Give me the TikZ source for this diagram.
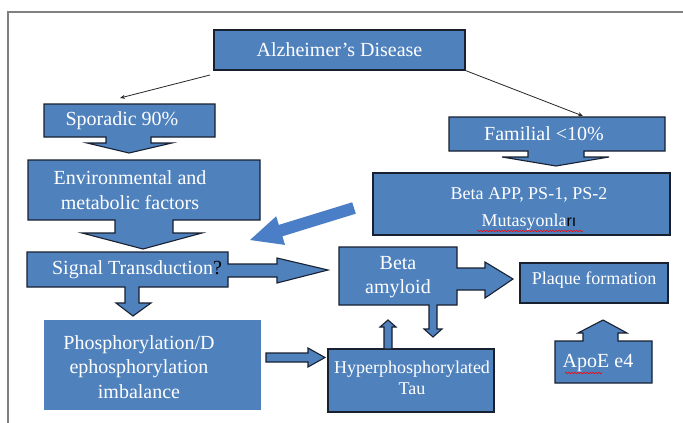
\documentclass[tikz,border=0pt]{standalone}
\usepackage{fontspec}
\setmainfont{Liberation Serif}
\newfontfamily\lsans{Liberation Sans}
\usetikzlibrary{arrows.meta,decorations.pathmorphing}
\definecolor{boxblue}{RGB}{79,129,189}
\definecolor{bigblue}{RGB}{74,126,198}
\definecolor{edgecol}{RGB}{25,32,48}
\definecolor{framegray}{RGB}{128,128,128}
\begin{document}
\begin{tikzpicture}[x=1pt,y=-1pt,
  shp/.style={fill=boxblue,draw=edgecol,line width=1.1pt,line join=miter},
  boxnode/.style={shp,rectangle,inner sep=0pt,text=white,align=center},
  lbl/.style={text=white,align=center,inner sep=0pt},
  fa/.style={font=\fontsize{20}{25}\selectfont},
  fb/.style={font=\fontsize{18}{22}\selectfont},
  conn/.style={draw=black!85,line width=0.8pt,-{Stealth[length=5pt,width=4pt]}},
  squig/.style={draw=red,line width=0.6pt,decorate,decoration={snake,amplitude=0.7pt,segment length=3pt}}]
\useasboundingbox (0,0) rectangle (683,423);
\fill[white] (0,0) rectangle (683,423);
% frame
\draw[framegray,line width=1.5pt] (8,423) -- (8,12) -- (683,12);

% Alzheimer's Disease
\node[boxnode,fa,minimum width=251pt,minimum height=40pt] (alz) at (339.5,50) {Alzheimer’s Disease};

% Sporadic 90% (down arrow callout)
\draw[shp] (44,104) -- (215,104) -- (215,137) -- (151,137) -- (151,143) -- (172,143) -- (129,153) -- (87,143) -- (106,143) -- (106,137) -- (44,137) -- cycle;
\node[lbl,fa] (spor) at (122,121) {Sporadic 90\%};

% Familial <10%
\draw[shp] (449,117) -- (665,117) -- (665,151) -- (584,151) -- (584,157) -- (609,157) -- (556,166) -- (502,157) -- (528,157) -- (528,151) -- (449,151) -- cycle;
\node[lbl,fa] (fam) at (544,134) {Familial <10\%};

% connectors
\coordinate (sporN) at (120,98);
\coordinate (alzL) at (210,75);
\coordinate (famN) at (583,116);
\draw[conn] (alzL) -- (sporN);
\draw[conn] (alz.south east) -- (famN);

% Environmental and metabolic factors
\draw[shp] (28,160) -- (260,160) -- (260,220) -- (173,220) -- (173,233) -- (202,233) -- (143,249) -- (82,233) -- (115,233) -- (115,220) -- (28,220) -- cycle;
\node[lbl,fa] (env) at (130,190) {Environmental and\\metabolic factors};

% Signal Transduction
\draw[shp] (27,252) -- (228,252) -- (228,264) -- (277,264) -- (277,258) -- (328,270) -- (277,283) -- (277,277) -- (228,277) -- (228,287) -- (139,287) -- (139,303) -- (151,303) -- (133,316) -- (116,303) -- (125,303) -- (125,287) -- (27,287) -- cycle;
\node[lbl,fa] (sig) at (137,270) {Signal Transduction\textcolor{black}{?}};

% big blue arrow
\fill[bigblue] (352.2,202.3) -- (278.8,224.9) -- (276.2,216.3) -- (250,240) -- (285,244.9) -- (282.4,236.3) -- (355.8,213.7) -- cycle;

% Beta APP
\node[boxnode,minimum width=297pt,minimum height=62pt] (app) at (521.5,204) {};
\node[lbl,font=\fontsize{18}{27}\selectfont] (appt) at (529,209) {Beta APP, PS-1, PS-2\\Mutasyonla\textcolor{black}{\lsans\fontsize{16}{27}\selectfont rı}};
\draw[squig] (477,231) -- (583,231);

% Beta amyloid
\draw[shp] (339,247) -- (457,247) -- (457,268) -- (485,268) -- (485,262) -- (513,279) -- (485,298) -- (485,290) -- (457,290) -- (457,305) -- (437,305) -- (437,329) -- (442,329) -- (433,337) -- (424,329) -- (429,329) -- (429,305) -- (339,305) -- cycle;
\node[lbl,font=\fontsize{20}{24}\selectfont] (ba) at (398,277) {Beta\\amyloid};

% Plaque formation
\node[boxnode,fb,minimum width=148pt,minimum height=40pt] (pl) at (594,283) {};
\node[lbl,fb] (plt) at (594,280) {Plaque formation};

% ApoE e4
\draw[shp] (555,341) -- (583,341) -- (583,333) -- (578,333) -- (603,320) -- (627,333) -- (618,333) -- (618,341) -- (652,341) -- (652,383) -- (555,383) -- cycle;
\node[lbl,fa] (apoe) at (598,363) {ApoE e4};
\draw[squig] (565,373) -- (602,373);

% Phosphorylation box
\fill[boxblue] (44,320) rectangle (261,410);
\node[lbl,font=\fontsize{20}{24.5}\selectfont] (phos) at (139,367) {Phosphorylation/D\\ephosphorylation\\imbalance};

% Hyperphosphorylated Tau
\node[boxnode,minimum width=166pt,minimum height=63pt] (hyp) at (411,380.5) {};
\node[lbl,font=\fontsize{18}{21}\selectfont] (hypt) at (412,378) {Hyperphosphorylated\\Tau};

% block arrows
\draw[shp] (266,353) -- (308,353) -- (308,348) -- (325,357.5) -- (308,367) -- (308,362) -- (266,362) -- cycle;
\draw[shp] (384,349) -- (384,327) -- (380,327) -- (388,320) -- (396,327) -- (392,327) -- (392,349) -- cycle;
\end{tikzpicture}
\end{document}
